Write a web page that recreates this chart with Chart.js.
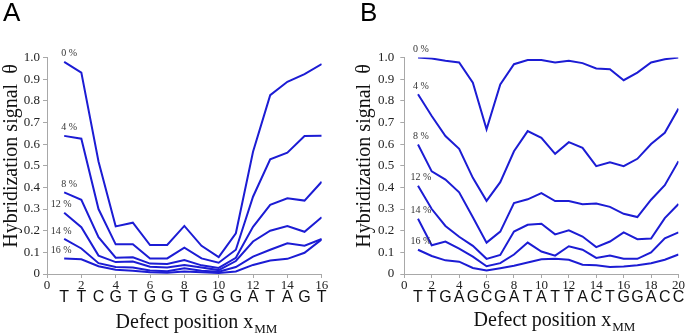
<!DOCTYPE html>
<html><head><meta charset="utf-8">
<script src="https://cdn.jsdelivr.net/npm/chart.js@4/dist/chart.umd.min.js"></script>
<style>
html,body{margin:0;padding:0;background:#fff;}
#wrap{position:relative;width:685px;height:333px;overflow:hidden;background:#fff;}
canvas{position:absolute;top:0;}
</style></head><body>
<div id="wrap">
<canvas id="cA" width="342" height="333" style="left:0px"></canvas>
<canvas id="cB" width="342" height="333" style="left:343px"></canvas>
</div>
<script>
// ---------- data ----------
const concentrations = ['0 %', '4 %', '8 %', '12 %', '14 %', '16 %'];

const sequenceA = ['T','T','C','G','T','G','G','T','G','G','G','A','T','A','G','T'];
const positionsA = [1,2,3,4,5,6,7,8,9,10,11,12,13,14,15,16];
const signalA0  = [0.98,0.93,0.52,0.22,0.237,0.134,0.134,0.222,0.13,0.078,0.188,0.565,0.826,0.888,0.923,0.97];
const signalA4  = [0.638,0.625,0.30,0.137,0.137,0.072,0.072,0.122,0.072,0.052,0.112,0.357,0.53,0.56,0.637,0.638];
const signalA8  = [0.377,0.343,0.17,0.075,0.077,0.048,0.046,0.065,0.04,0.028,0.075,0.218,0.319,0.35,0.339,0.426];
const signalA12 = [0.283,0.216,0.085,0.055,0.058,0.034,0.03,0.042,0.03,0.018,0.06,0.15,0.2,0.222,0.195,0.262];
const signalA14 = [0.162,0.118,0.05,0.032,0.03,0.016,0.013,0.026,0.015,0.01,0.032,0.08,0.112,0.142,0.131,0.162];
const signalA16 = [0.072,0.068,0.036,0.02,0.015,0.008,0.006,0.012,0.008,0.005,0.012,0.042,0.062,0.07,0.098,0.16];

const sequenceB = ['T','T','G','A','G','C','G','A','T','A','T','T','A','C','T','G','G','A','C','C'];
const positionsB = [1,2,3,4,5,6,7,8,9,10,11,12,13,14,15,16,17,18,19,20];
const signalB0  = [1.0,0.995,0.985,0.977,0.884,0.668,0.876,0.969,0.988,0.988,0.977,0.985,0.974,0.949,0.946,0.895,0.93,0.977,0.992,1.0];
const signalB4  = [0.83,0.73,0.637,0.578,0.444,0.338,0.424,0.567,0.66,0.629,0.555,0.609,0.583,0.498,0.516,0.498,0.532,0.6,0.652,0.764];
const signalB8  = [0.598,0.474,0.436,0.377,0.262,0.145,0.196,0.328,0.345,0.374,0.337,0.337,0.322,0.326,0.31,0.278,0.263,0.343,0.41,0.521];
const signalB12 = [0.408,0.30,0.222,0.172,0.13,0.07,0.088,0.196,0.227,0.232,0.183,0.202,0.173,0.124,0.15,0.192,0.161,0.164,0.258,0.323];
const signalB14 = [0.255,0.133,0.15,0.117,0.08,0.036,0.05,0.09,0.145,0.104,0.085,0.128,0.112,0.074,0.085,0.07,0.07,0.1,0.165,0.192];
const signalB16 = [0.112,0.083,0.063,0.057,0.028,0.016,0.027,0.038,0.053,0.068,0.07,0.066,0.043,0.04,0.032,0.035,0.04,0.05,0.066,0.09];

const yTicks = [0,0.1,0.2,0.3,0.4,0.5,0.6,0.7,0.8,0.9,1.0];
const yTitle = 'Hybridization signal  θ';
const xTitleMain = 'Defect position x';
const xTitleSub = 'MM';

// ---------- styling ----------
const LINE = '#1c1cd4';
const AXIS = '#a8a8a8';
const SERIF = '"Liberation Serif", "DejaVu Serif", serif';
const SANS = '"Liberation Sans", Arial, sans-serif';

const panelStyle = {
  cA: {panel: 'A', panelX: 3, yTitleX: 12, xTitleX: 196, xTitleY: 328, dxShort: 5, dxLong: -3},
  cB: {panel: 'B', panelX: 17, yTitleX: 22, xTitleX: 211, xTitleY: 326, dxShort: 3, dxLong: 3}
};
const panelText = {};

const extraText = {
  id: 'extraText',
  afterDraw(chart) {
    const o = panelStyle[chart.canvas.id];
    const t = panelText[chart.canvas.id];
    const ctx = chart.ctx, xs = chart.scales.x, ys = chart.scales.y;
    ctx.save();
    // panel letter
    ctx.fillStyle = '#000';
    ctx.font = '26px ' + SANS;
    ctx.textAlign = 'left'; ctx.textBaseline = 'top';
    ctx.fillText(o.panel, o.panelX, 1);
    // y title
    ctx.save();
    ctx.translate(o.yTitleX, 156);
    ctx.rotate(-Math.PI / 2);
    ctx.font = '20px ' + SERIF;
    ctx.fillStyle = '#111';
    ctx.textAlign = 'center'; ctx.textBaseline = 'middle';
    ctx.fillText(yTitle, 0, 0);
    ctx.restore();
    // x title with subscript
    ctx.font = '20px ' + SERIF;
    const w1 = ctx.measureText(xTitleMain).width;
    ctx.font = '13px ' + SERIF;
    const w2 = ctx.measureText(xTitleSub).width;
    const start = o.xTitleX - (w1 + w2) / 2;
    ctx.fillStyle = '#111';
    ctx.textAlign = 'left'; ctx.textBaseline = 'alphabetic';
    ctx.font = '20px ' + SERIF;
    ctx.fillText(xTitleMain, start, o.xTitleY);
    ctx.font = '13px ' + SERIF;
    ctx.fillText(xTitleSub, start + w1 + 1, o.xTitleY + 5);
    // sequence letters
    ctx.font = '16px ' + SANS;
    ctx.textAlign = 'center'; ctx.textBaseline = 'alphabetic';
    ctx.fillStyle = '#111';
    t.sequence.forEach((s, i) => {
      ctx.fillText(s, xs.getPixelForValue(t.positions[i]), 302);
    });
    // concentration labels
    ctx.font = '10px ' + SERIF;
    ctx.fillStyle = '#333';
    ctx.textBaseline = 'middle';
    chart.data.datasets.forEach((ds) => {
      const p = ds.data[0];
      const px = xs.getPixelForValue(p.x), py = ys.getPixelForValue(p.y);
      const dx = ds.label.length > 3 ? o.dxLong : o.dxShort;
      ctx.fillText(ds.label, px + dx, py - 8);
    });
    ctx.restore();
  }
};

function makeChart(id, positions, series, sequence, xmax, yWidth, rightPad, tickPad) {
  const datasets = series.map((vals, k) => ({
    label: concentrations[k],
    data: vals.map((v, i) => ({x: positions[i], y: v})),
    borderColor: LINE, borderWidth: 2, pointRadius: 0, tension: 0, fill: false
  }));
  panelText[id] = {sequence, positions};
  return new Chart(document.getElementById(id), {
    type: 'line',
    data: {datasets},
    plugins: [extraText],
    options: {
      responsive: false, animation: false, devicePixelRatio: 1,
      layout: {padding: {top: 57.5, right: rightPad, left: 0, bottom: 0}},
      plugins: {legend: {display: false}, tooltip: {enabled: false}},
      scales: {
        x: {
          type: 'linear', min: 0, max: xmax,
          afterFit: s => { s.height = 59; },
          grid: {display: true, drawOnChartArea: false, drawTicks: true, tickLength: 4, color: AXIS},
          border: {display: true, color: AXIS, width: 1},
          ticks: {stepSize: 2, padding: 0, color: '#222', font: {family: SERIF, size: 13}, maxRotation: 0,
                  callback: v => String(v)}
        },
        y: {
          type: 'linear', min: 0, max: 1,
          afterFit: s => { s.width = yWidth; },
          afterBuildTicks: s => { s.ticks = yTicks.map(v => ({value: v})); },
          grid: {display: true, drawOnChartArea: false, drawTicks: true, tickLength: 4, color: AXIS},
          border: {display: true, color: AXIS, width: 1},
          ticks: {padding: tickPad, color: '#222', font: {family: SERIF, size: 13},
                  callback: v => v === 0 ? '0' : v.toFixed(1)}
        }
      }
    }
  });
}

makeChart('cA', positionsA, [signalA0, signalA4, signalA8, signalA12, signalA14, signalA16], sequenceA, 16, 47, 20.3, 3);
makeChart('cB', positionsB, [signalB0, signalB4, signalB8, signalB12, signalB14, signalB16], sequenceB, 20, 61.3, 5.7, 6);
</script>
</body></html>
